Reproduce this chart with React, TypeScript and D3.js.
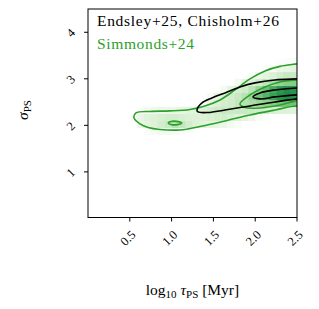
import React from 'react';
import * as d3 from 'd3';

// axis ticks
const xTicks = [0.5, 1.0, 1.5, 2.0, 2.5];
const yTicks = [1, 2, 3, 4];

// 2D histogram: 30 x 30 bins over [0, 2.5] x [0, 4.5]; rows listed from bin 12 upwards
const nBins = 30;
const histRowStart = 12;
const histRows: number[][] = [
  [0, 0, 0, 0, 0, 0, 0, 0, 0.04, 0.05, 0.06, 0.06, 0.05, 0.04, 0, 0, 0, 0, 0, 0, 0, 0, 0, 0, 0, 0, 0, 0, 0, 0],
  [0, 0, 0, 0, 0, 0, 0, 0.08, 0.12, 0.16, 0.2, 0.24, 0.3, 0.26, 0.2, 0.16, 0.14, 0.12, 0.1, 0.08, 0.06, 0.04, 0, 0, 0, 0, 0, 0, 0, 0],
  [0, 0, 0, 0, 0, 0, 0.03, 0.1, 0.14, 0.16, 0.18, 0.2, 0.2, 0.18, 0.16, 0.16, 0.16, 0.18, 0.2, 0.2, 0.18, 0.15, 0.12, 0.08, 0.05, 0.03, 0, 0, 0, 0],
  [0, 0, 0, 0, 0, 0, 0, 0.03, 0.06, 0.07, 0.08, 0.08, 0.08, 0.1, 0.12, 0.14, 0.16, 0.2, 0.22, 0.24, 0.24, 0.24, 0.24, 0.24, 0.22, 0.2, 0.18, 0.16, 0.15, 0.14],
  [0, 0, 0, 0, 0, 0, 0, 0, 0, 0, 0, 0, 0, 0, 0, 0, 0.04, 0.1, 0.16, 0.2, 0.22, 0.26, 0.3, 0.34, 0.38, 0.42, 0.45, 0.48, 0.5, 0.5],
  [0, 0.004, 0.004, 0.004, 0.004, 0.004, 0.003, 0, 0, 0, 0, 0, 0, 0, 0, 0, 0, 0.05, 0.1, 0.16, 0.2, 0.24, 0.3, 0.4, 0.5, 0.58, 0.66, 0.72, 0.75, 0.72],
  [0, 0, 0, 0, 0, 0, 0, 0, 0, 0, 0, 0, 0, 0, 0, 0, 0, 0, 0, 0.06, 0.12, 0.18, 0.22, 0.3, 0.4, 0.52, 0.62, 0.7, 0.75, 0.72],
  [0, 0, 0, 0, 0, 0, 0, 0, 0, 0, 0, 0, 0, 0, 0, 0, 0, 0, 0, 0, 0, 0.06, 0.12, 0.16, 0.22, 0.28, 0.34, 0.4, 0.44, 0.44],
  [0, 0, 0, 0, 0, 0, 0, 0, 0, 0, 0, 0, 0, 0, 0, 0, 0, 0, 0, 0, 0, 0, 0, 0.04, 0.08, 0.12, 0.16, 0.2, 0.24, 0.24],
  [0, 0, 0, 0, 0, 0, 0, 0, 0, 0, 0, 0, 0, 0, 0, 0, 0, 0, 0, 0, 0, 0, 0, 0, 0, 0.03, 0.05, 0.08, 0.1, 0.12],
  [0, 0, 0, 0, 0, 0, 0, 0, 0, 0, 0, 0, 0, 0, 0, 0, 0, 0, 0, 0, 0, 0, 0, 0, 0, 0, 0, 0.02, 0.03, 0.04],
];

// contour outlines, [log tau, sigma]
const simmondsOuter: [number, number][] = [
  [0.574, 2.267], [0.742, 2.299], [0.981, 2.31], [1.22, 2.342], [1.4, 2.417], [1.579, 2.546],
  [1.758, 2.761], [1.938, 2.998], [2.117, 3.17], [2.297, 3.267], [2.5, 3.32], [2.66, 3.36],
  [2.66, 2.37], [2.5, 2.417], [2.237, 2.331], [1.938, 2.224], [1.639, 2.095], [1.34, 1.976],
  [1.1, 1.901], [0.861, 1.912], [0.718, 1.955], [0.622, 2.03], [0.55, 2.159],
];
const simmondsIsland: [number, number][] = [
  [0.96, 2.05], [1.0, 2.085], [1.08, 2.08], [1.12, 2.05], [1.07, 2.015], [0.99, 2.02],
];
const simmondsInner: [number, number][] = [
  [1.818, 2.46], [1.938, 2.654], [2.117, 2.826], [2.297, 2.933], [2.5, 2.976], [2.66, 2.998],
  [2.66, 2.525], [2.5, 2.525], [2.297, 2.439], [2.057, 2.374], [1.878, 2.385],
];
const endsleyOuter: [number, number][] = [
  [1.304, 2.331], [1.364, 2.482], [1.483, 2.589], [1.639, 2.697], [1.818, 2.826], [1.998, 2.912],
  [2.237, 2.976], [2.5, 2.998], [2.66, 3.009], [2.66, 2.589], [2.5, 2.568], [2.237, 2.503],
  [1.938, 2.417], [1.639, 2.331], [1.435, 2.277], [1.316, 2.288],
];
const endsleyInner: [number, number][] = [
  [1.974, 2.611], [2.057, 2.697], [2.237, 2.761], [2.5, 2.804], [2.66, 2.815],
  [2.66, 2.632], [2.5, 2.654], [2.237, 2.611], [2.057, 2.568],
];

const green = '#2ca02c';
const font = 'Liberation Serif';

export default function App() {
  const x = d3.scaleLinear().domain([0, 2.5]).range([88, 297]);
  const y = d3.scaleLinear().domain([0.02, 4.5]).range([217.5, 9]);
  // Greens colormap, fading to pure white near zero
  const color = (v: number) =>
    d3.interpolateRgb('#ffffff', d3.interpolateGreens(v))(Math.min(1, v * 12));
  const binW = 2.5 / nBins;
  const binH = 4.5 / nBins;

  const cells: { i: number; j: number; v: number }[] = [];
  histRows.forEach((row, r) => {
    row.forEach((v, i) => {
      if (v > 0) cells.push({ i, j: histRowStart + r, v });
    });
  });

  const line = d3
    .line<[number, number]>()
    .x(d => x(d[0]))
    .y(d => y(d[1]))
    .curve(d3.curveCatmullRomClosed.alpha(0.5));

  const [x0, x1] = x.range();
  const [yb, yt] = y.range();

  return (
    <svg width={319} height={309} style={{ position: 'absolute', left: 0, top: 0 }}>
      <defs>
        <clipPath id="plot">
          <rect x={x0} y={yt} width={x1 - x0} height={yb - yt} />
        </clipPath>
      </defs>
      <g clipPath="url(#plot)">
        {cells.map(c => (
          <rect
            key={`${c.i}-${c.j}`}
            x={x(c.i * binW)}
            y={y((c.j + 1) * binH)}
            width={x((c.i + 1) * binW) - x(c.i * binW) + 0.3}
            height={y(c.j * binH) - y((c.j + 1) * binH) + 0.3}
            fill={color(c.v)}
          />
        ))}
        {[simmondsOuter, simmondsIsland, simmondsInner].map((p, k) => (
          <path key={`g${k}`} d={line(p) || ''} fill="none" stroke={green} strokeWidth={1.6} />
        ))}
        {[endsleyOuter, endsleyInner].map((p, k) => (
          <path key={`b${k}`} d={line(p) || ''} fill="none" stroke="#000" strokeWidth={1.6} />
        ))}
      </g>
      <rect x={x0} y={yt} width={x1 - x0} height={yb - yt} fill="none" stroke="#000" strokeWidth={1} />

      {xTicks.map(t => (
        <g key={`xt${t}`}>
          <line x1={x(t)} x2={x(t)} y1={yb} y2={yb + 4} stroke="#000" />
          <text
            transform={`translate(${x(t) - 2},${238}) rotate(-45)`}
            textAnchor="middle"
            dy="0.35em"
            fontFamily={font}
            fontSize={12.5}
          >
            {t.toFixed(1)}
          </text>
        </g>
      ))}
      {yTicks.map(t => (
        <g key={`yt${t}`}>
          <line x1={x0} x2={x0 - 4} y1={y(t)} y2={y(t)} stroke="#000" />
          <text
            transform={`translate(${70.5},${y(t) + 0.5}) rotate(-45)`}
            textAnchor="middle"
            dy="0.35em"
            fontFamily={font}
            fontSize={12.5}
          >
            {t}
          </text>
        </g>
      ))}

      <text x={97} y={26} fontFamily={font} fontSize={15.5} textLength={182} lengthAdjust="spacing">
        Endsley+25, Chisholm+26
      </text>
      <text x={97} y={48.5} fontFamily={font} fontSize={15.5} fill={green} textLength={97} lengthAdjust="spacing">
        Simmonds+24
      </text>

      <text x={192.5} y={295} textAnchor="middle" fontFamily={font} fontSize={15.5}>
        log<tspan fontSize={11} dy={3}>10</tspan>
        <tspan dy={-3}> </tspan>
        <tspan fontStyle="italic">τ</tspan>
        <tspan fontSize={11} dy={3}>PS</tspan>
        <tspan dy={-3}> [Myr]</tspan>
      </text>
      <text transform="translate(28,110) rotate(-90)" textAnchor="middle" fontFamily={font} fontSize={15.5}>
        <tspan fontStyle="italic">σ</tspan>
        <tspan fontSize={11} dy={3}>PS</tspan>
      </text>
    </svg>
  );
}
